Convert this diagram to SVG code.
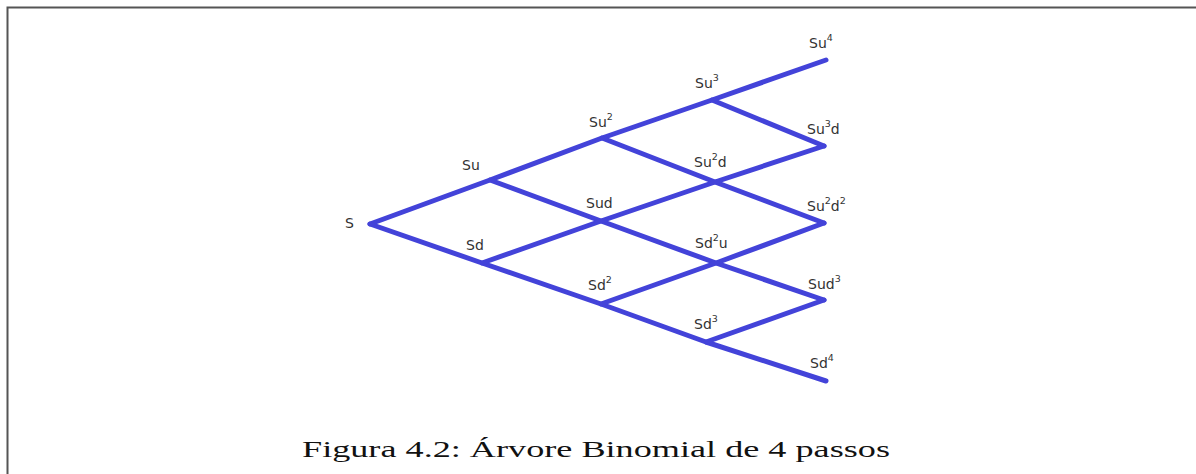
<svg xmlns="http://www.w3.org/2000/svg" width="1196" height="474" viewBox="0 0 1196 474">
<style>
.edge{stroke:#4343d9;stroke-width:5;fill:none;stroke-linecap:round;stroke-linejoin:round}
.lbl{font-family:"DejaVu Sans",Verdana,sans-serif;font-size:14px;fill:#333}
.sup{font-size:9.5px}
.cap{font-family:"Liberation Serif","Times New Roman",serif;font-size:24px;fill:#111}
</style>
<rect x="7.5" y="7.5" width="1200" height="480" fill="#fff" stroke="#555" stroke-width="2"/>
<g id="connectors">
<polyline class="edge" points="370,224 490,180 602,138 712,100 826,60"/>
<polyline class="edge" points="370,224 482,263 601,304 706,342 826,381"/>
<polyline class="edge" points="490,180 601,221 716,263 824,300"/>
<polyline class="edge" points="602,138 715,182 824,223"/>
<polyline class="edge" points="712,100 824,146"/>
<polyline class="edge" points="482,263 601,221 715,182 824,146"/>
<polyline class="edge" points="601,304 716,263 824,223"/>
<polyline class="edge" points="706,342 824,300"/>
</g>
<g id="n-S"><text class="lbl" x="345" y="228">S</text></g>
<g id="n-Su"><text class="lbl" x="462" y="170">Su</text></g>
<g id="n-Sd"><text class="lbl" x="466" y="250">Sd</text></g>
<g id="n-Su2"><text class="lbl" x="589" y="127">Su<tspan class="sup" dy="-7">2</tspan></text></g>
<g id="n-Sud"><text class="lbl" x="586" y="208">Sud</text></g>
<g id="n-Sd2"><text class="lbl" x="588" y="290">Sd<tspan class="sup" dy="-7">2</tspan></text></g>
<g id="n-Su3"><text class="lbl" x="695" y="88">Su<tspan class="sup" dy="-7">3</tspan></text></g>
<g id="n-Su2d"><text class="lbl" x="694" y="167">Su<tspan class="sup" dy="-7">2</tspan><tspan dy="7">d</tspan></text></g>
<g id="n-Sd2u"><text class="lbl" x="695" y="248">Sd<tspan class="sup" dy="-7">2</tspan><tspan dy="7">u</tspan></text></g>
<g id="n-Sd3"><text class="lbl" x="694" y="329">Sd<tspan class="sup" dy="-7">3</tspan></text></g>
<g id="n-Su4"><text class="lbl" x="809" y="48">Su<tspan class="sup" dy="-7">4</tspan></text></g>
<g id="n-Su3d"><text class="lbl" x="807" y="134">Su<tspan class="sup" dy="-7">3</tspan><tspan dy="7">d</tspan></text></g>
<g id="n-Su2d2"><text class="lbl" x="807" y="211">Su<tspan class="sup" dy="-7">2</tspan><tspan dy="7">d</tspan><tspan class="sup" dy="-7">2</tspan></text></g>
<g id="n-Sud3"><text class="lbl" x="808" y="289">Sud<tspan class="sup" dy="-7">3</tspan></text></g>
<g id="n-Sd4"><text class="lbl" x="810" y="368">Sd<tspan class="sup" dy="-7">4</tspan></text></g>
<g id="caption"><text class="cap" x="596" y="457" text-anchor="middle" textLength="588" lengthAdjust="spacingAndGlyphs">Figura 4.2: Árvore Binomial de 4 passos</text></g>
</svg>
